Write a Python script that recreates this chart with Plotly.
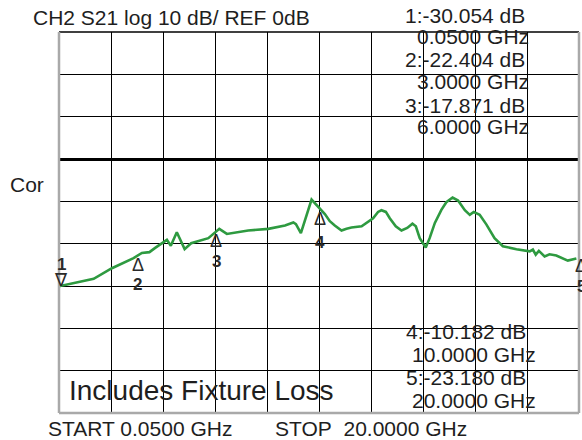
import numpy as np
import plotly.graph_objects as go

# ---- data ----
freq_ghz = [0.05, 1.38, 2.08, 2.91, 3.23, 3.52, 3.74, 4.19, 4.34, 4.57, 4.87, 5.12,
            5.78, 6.20, 6.49, 7.31, 8.08, 8.72, 9.04, 9.14, 9.33, 9.74, 10.25, 10.44,
            10.63, 10.89, 11.08, 11.27, 11.66, 11.91, 12.10, 12.29, 12.42, 12.59, 12.74,
            12.97, 13.19, 13.41, 13.61, 13.74, 13.89, 14.12, 14.27, 14.47, 14.72, 14.91,
            15.15, 15.36, 15.62, 15.81, 15.96, 16.19, 16.45, 16.76, 17.08, 17.60, 18.11,
            18.23, 18.34, 18.46, 18.68, 18.87, 19.13, 19.57, 19.90]
s21_db = [-30.05, -28.3, -25.8, -23.4, -22.2, -22.0, -21.0, -19.1, -20.5, -17.3, -21.3, -19.9,
          -18.7, -16.5, -17.7, -16.9, -16.5, -15.7, -15.0, -15.4, -17.5, -9.6, -13.0, -14.7,
          -15.7, -16.9, -16.5, -16.2, -15.9, -14.9, -14.0, -12.5, -12.1, -12.5, -14.0,
          -15.9, -16.9, -16.3, -15.3, -15.9, -18.7, -20.9, -18.7, -15.1, -12.0, -10.2,
          -9.1, -9.8, -12.1, -13.2, -12.5, -13.2, -15.5, -18.7, -20.6, -21.3, -21.8,
          -21.4, -22.6, -21.7, -23.0, -22.5, -22.8, -24.0, -23.5]

marker_ids = ["1", "2", "3", "4", "5"]
marker_freq = [0.05, 3.0, 6.0, 10.0, 20.0]
marker_val = [-30.054, -22.404, -17.871, -10.182, -23.180]
marker_freq_txt = ["0.0500", "3.0000", "6.0000", "10.0000", "20.0000"]

start_ghz = 0.05
stop_ghz = 20.0
ref_db = 0
scale_db = 10
y_top_div = 3
y_bot_div = 6

# ---- layout geometry (pixels) ----
W, H = 582, 440
L, R, T, B = 59, 3, 32, 27
PW, PH = W - L - R, H - T - B


def px(x):
    return (x - L) / PW


def py(y):
    return (H - B - y) / PH


FONT = "Liberation Sans, Arial, sans-serif"
TXT = "#1e1e1e"
GREEN = "#2e9a40"

fig = go.Figure()
fig.add_trace(go.Scatter(x=freq_ghz, y=s21_db, mode="lines",
                         line=dict(color=GREEN, width=2.6), hoverinfo="skip"))

annotations = []


def ptext(x, y, text, size=21, xanchor="left"):
    annotations.append(dict(x=px(x), y=py(y), xref="paper", yref="paper", text=text,
                            showarrow=False, xanchor=xanchor, yanchor="middle",
                            font=dict(family=FONT, size=size, color=TXT)))


ptext(30.5, 17.5, "CH2 S21 log 10 dB/ REF 0dB")
ptext(8, 185, "Cor")

# marker readouts
rows_top = [(15.8, 36.3), (59.7, 81.2), (105.2, 126.2)]
rows_bot = [(331, 354), (377, 400)]
for i, (ydb, yf) in enumerate(rows_top):
    ptext(527, ydb, f"{marker_ids[i]}:{marker_val[i]:.3f} dB", xanchor="right")
    ptext(531, yf, f"{marker_freq_txt[i]} GHz", xanchor="right")
for j, (ydb, yf) in enumerate(rows_bot):
    i = j + 3
    ptext(528, ydb, f"{marker_ids[i]}:{marker_val[i]:.3f} dB", xanchor="right")
    ptext(538, yf, f"{marker_freq_txt[i]} GHz", xanchor="right")

ptext(67, 390, "Includes Fixture Loss", size=28)
ptext(46, 428, f"START {start_ghz:.4f} GHz")
ptext(273, 428, f"STOP\u00a0\u00a0{stop_ghz:.4f} GHz")

# marker symbols on trace
extra = [0, 0, 0, 4, 0]
for i, (mid, mf) in enumerate(zip(marker_ids, marker_freq)):
    yv = float(np.interp(mf, freq_ghz, s21_db))
    if i == 0:
        sym_shift, num_shift, sym = 6, 22, "\u2207"
    else:
        sym_shift, num_shift, sym = -8 - extra[i], -28 - 2 * extra[i], "\u0394"
    annotations.append(dict(x=mf, y=yv, xref="x", yref="y", text=sym, showarrow=False,
                            xanchor="center", yanchor="middle", xshift=2, yshift=sym_shift,
                            font=dict(family=FONT, size=18, color="#2a2a2a")))
    annotations.append(dict(x=mf, y=yv, xref="x", yref="y", text=f"<b>{mid}</b>",
                            showarrow=False, xanchor="center", yanchor="middle", xshift=2,
                            yshift=num_shift,
                            font=dict(family=FONT, size=17, color="#2a2a2a")))

shapes = [
    dict(type="line", xref="paper", yref="paper", x0=0, x1=1, y0=1, y1=1,
         line=dict(color="black", width=1.3), layer="above"),
    dict(type="line", xref="paper", yref="paper", x0=0, x1=0, y0=0, y1=1,
         line=dict(color="#a9a9a9", width=2.5), layer="above"),
    dict(type="line", xref="paper", yref="paper", x0=1, x1=1, y0=0, y1=1,
         line=dict(color="#a9a9a9", width=2.5), layer="above"),
    dict(type="line", xref="paper", yref="paper", x0=0, x1=1, y0=0, y1=0,
         line=dict(color="#a9a9a9", width=2.5), layer="above"),
]

fig.update_layout(
    width=W, height=H, margin=dict(l=L, r=R, t=T, b=B, pad=0),
    paper_bgcolor="white", plot_bgcolor="white", showlegend=False,
    annotations=annotations, shapes=shapes,
    xaxis=dict(range=[start_ghz, stop_ghz], tick0=start_ghz,
               dtick=(stop_ghz - start_ghz) / 10, showgrid=True, gridcolor="black",
               gridwidth=1.3, zeroline=False, showticklabels=False, ticks="",
               showline=False, fixedrange=True),
    yaxis=dict(range=[ref_db - y_bot_div * scale_db, ref_db + y_top_div * scale_db],
               tick0=0, dtick=scale_db, showgrid=True, gridcolor="black", gridwidth=1.3,
               zeroline=True, zerolinecolor="black", zerolinewidth=3.2,
               showticklabels=False, ticks="", showline=False, fixedrange=True),
)

fig.write_html("out.html", config={"displayModeBar": False},
               post_script="document.body.style.margin='0';document.body.style.overflow='hidden';")
